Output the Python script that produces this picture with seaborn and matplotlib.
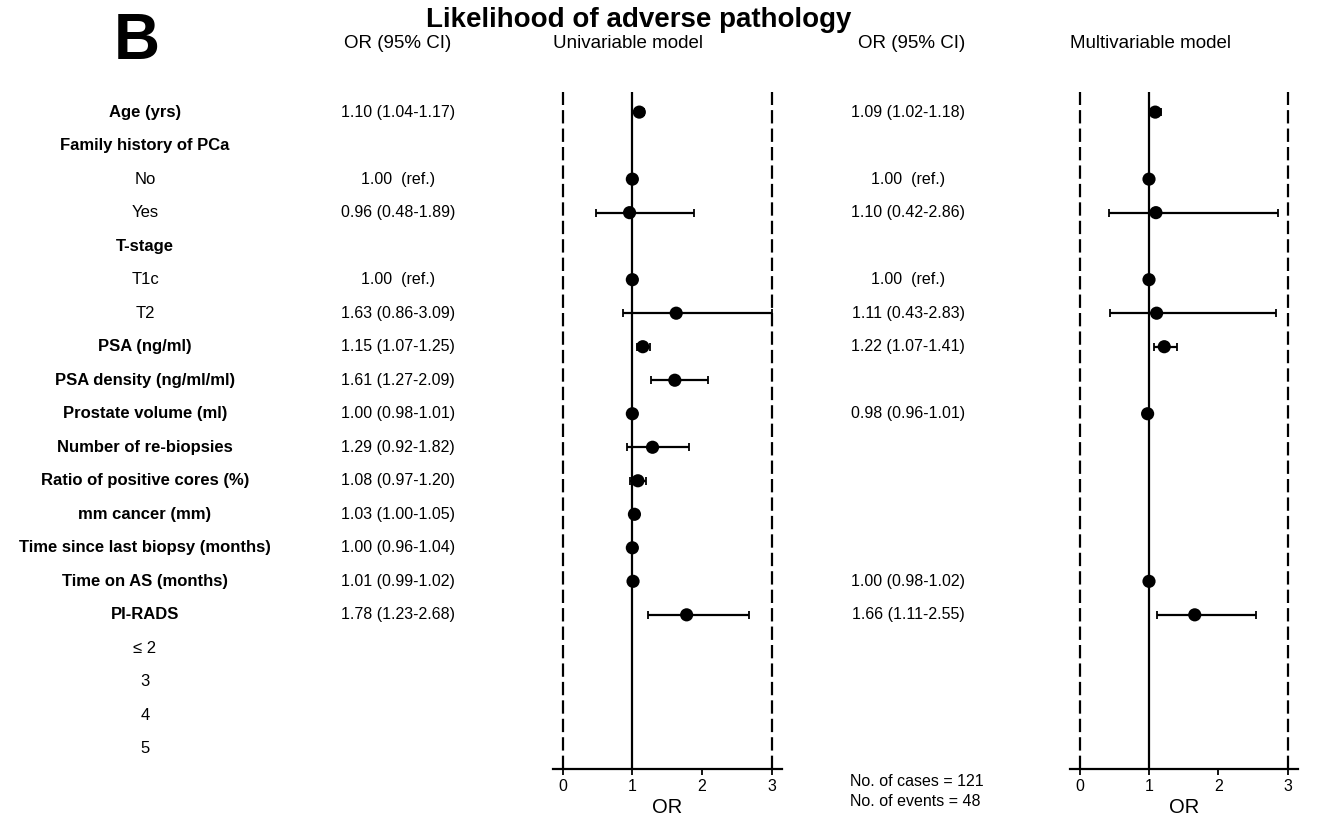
import numpy as np
import pandas as pd
import matplotlib
matplotlib.use("Agg")
import matplotlib.pyplot as plt
import matplotlib.transforms as mtransforms
import seaborn as sns

# ---------------- data ----------------
labels = ["Age (yrs)", "Family history of PCa", "No", "Yes", "T-stage", "T1c", "T2",
          "PSA (ng/ml)", "PSA density (ng/ml/ml)", "Prostate volume (ml)",
          "Number of re-biopsies", "Ratio of positive cores (%)", "mm cancer (mm)",
          "Time since last biopsy (months)", "Time on AS (months)", "PI-RADS",
          "\u2264 2", "3", "4", "5"]
bold = [True, True, False, False, True, False, False, True, True, True,
        True, True, True, True, True, True, False, False, False, False]

uni_or = [1.10, np.nan, 1.00, 0.96, np.nan, 1.00, 1.63, 1.15, 1.61, 1.00,
          1.29, 1.08, 1.03, 1.00, 1.01, 1.78, np.nan, np.nan, np.nan, np.nan]
uni_lo = [1.04, np.nan, 1.00, 0.48, np.nan, 1.00, 0.86, 1.07, 1.27, 0.98,
          0.92, 0.97, 1.00, 0.96, 0.99, 1.23, np.nan, np.nan, np.nan, np.nan]
uni_hi = [1.17, np.nan, 1.00, 1.89, np.nan, 1.00, 3.09, 1.25, 2.09, 1.01,
          1.82, 1.20, 1.05, 1.04, 1.02, 2.68, np.nan, np.nan, np.nan, np.nan]
uni_txt = ["1.10 (1.04-1.17)", "", "1.00  (ref.)", "0.96 (0.48-1.89)", "", "1.00  (ref.)",
           "1.63 (0.86-3.09)", "1.15 (1.07-1.25)", "1.61 (1.27-2.09)", "1.00 (0.98-1.01)",
           "1.29 (0.92-1.82)", "1.08 (0.97-1.20)", "1.03 (1.00-1.05)", "1.00 (0.96-1.04)",
           "1.01 (0.99-1.02)", "1.78 (1.23-2.68)", "", "", "", ""]

multi_or = [1.09, np.nan, 1.00, 1.10, np.nan, 1.00, 1.11, 1.22, np.nan, 0.98,
            np.nan, np.nan, np.nan, np.nan, 1.00, 1.66, np.nan, np.nan, np.nan, np.nan]
multi_lo = [1.02, np.nan, 1.00, 0.42, np.nan, 1.00, 0.43, 1.07, np.nan, 0.96,
            np.nan, np.nan, np.nan, np.nan, 0.98, 1.11, np.nan, np.nan, np.nan, np.nan]
multi_hi = [1.18, np.nan, 1.00, 2.86, np.nan, 1.00, 2.83, 1.41, np.nan, 1.01,
            np.nan, np.nan, np.nan, np.nan, 1.02, 2.55, np.nan, np.nan, np.nan, np.nan]
multi_txt = ["1.09 (1.02-1.18)", "", "1.00  (ref.)", "1.10 (0.42-2.86)", "", "1.00  (ref.)",
             "1.11 (0.43-2.83)", "1.22 (1.07-1.41)", "", "0.98 (0.96-1.01)",
             "", "", "", "", "1.00 (0.98-1.02)", "1.66 (1.11-2.55)", "", "", "", ""]

xticks = [0, 1, 2, 3]
n_cases = 121
n_events = 48

# ---------------- style ----------------
sns.set_theme(style="white")
plt.rcParams["font.family"] = ["Liberation Sans", "DejaVu Sans"]
plt.rcParams["text.color"] = "black"
plt.rcParams["axes.labelcolor"] = "black"
plt.rcParams["xtick.color"] = "black"
plt.rcParams["xtick.labelcolor"] = "black"

W, H = 1320, 817
fig = plt.figure(figsize=(W / 100, H / 100), dpi=100)

def fx(px):
    return px / W

def fy(py):
    return 1 - py / H

ax_bottom, ax_top = 769, 92
axes_specs = [(553, 782), (1070, 1298)]
axs = []
for (l, r) in axes_specs:
    ax = fig.add_axes([fx(l), fy(ax_bottom), (r - l) / W, (ax_bottom - ax_top) / H])
    axs.append(ax)

rows = np.arange(len(labels))
XMAX_DRAW = 3.0

def draw_forest(ax, orv, lo, hi):
    df = pd.DataFrame({"row": rows, "OR": orv, "lo": lo, "hi": hi}).dropna()
    hi_c = np.minimum(df["hi"].values, XMAX_DRAW)
    ax.axvline(0, color="black", lw=1.6, dashes=(6.0, 2.3), zorder=1)
    ax.axvline(3, color="black", lw=1.6, dashes=(6.0, 2.3), zorder=1)
    ax.axvline(1, color="black", lw=1.6, zorder=1)
    ax.errorbar(df["OR"], df["row"], xerr=[df["OR"] - df["lo"], hi_c - df["OR"]],
                fmt="none", ecolor="black", elinewidth=1.6, capsize=3, capthick=1.3, zorder=2)
    sns.scatterplot(data=df, x="OR", y="row", ax=ax, color="black", s=90,
                    edgecolor="none", zorder=3, legend=False)
    ax.set_xlim(-0.14, 3.15)
    ax.set_ylim(19.6, -0.6)
    ax.set_xticks(xticks)
    ax.set_xticklabels([str(t) for t in xticks], fontsize=11.5)
    ax.set_yticks([])
    ax.set_ylabel("")
    ax.set_xlabel("OR", fontsize=14.5, labelpad=3)
    for s in ["top", "left", "right"]:
        ax.spines[s].set_visible(False)
    ax.spines["bottom"].set_linewidth(1.6)
    ax.spines["bottom"].set_color("black")
    ax.tick_params(axis="x", direction="out", length=4, width=1.3, colors="black", pad=3,
                   bottom=True)
    ax.patch.set_alpha(0)

draw_forest(axs[0], uni_or, uni_lo, uni_hi)
draw_forest(axs[1], multi_or, multi_lo, multi_hi)

# ---------------- texts ----------------
trans = mtransforms.blended_transform_factory(fig.transFigure, axs[0].transData)
for i, lab in enumerate(labels):
    fig.text(fx(145), i, lab, transform=trans, ha="center", va="center",
             fontsize=12, fontweight="bold" if bold[i] else "normal")
    if uni_txt[i]:
        fig.text(fx(398), i, uni_txt[i], transform=trans, ha="center", va="center", fontsize=11.5)
    if multi_txt[i]:
        fig.text(fx(908), i, multi_txt[i], transform=trans, ha="center", va="center", fontsize=11.5)

fig.text(fx(639), fy(20), "Likelihood of adverse pathology", ha="center", va="center",
         fontsize=20, fontweight="bold")
fig.text(fx(137), fy(42), "B", ha="center", va="center", fontsize=46, fontweight="bold")
fig.text(fx(398), fy(44), "OR (95% CI)", ha="center", va="center", fontsize=13.5)
fig.text(fx(628), fy(44), "Univariable model", ha="center", va="center", fontsize=13.5)
fig.text(fx(912), fy(44), "OR (95% CI)", ha="center", va="center", fontsize=13.5)
fig.text(fx(1151), fy(44), "Multivariable model", ha="center", va="center", fontsize=13.5)

fig.text(fx(850), fy(782), f"No. of cases = {n_cases}", ha="left", va="center", fontsize=11.5)
fig.text(fx(850), fy(802), f"No. of events = {n_events}", ha="left", va="center", fontsize=11.5)

fig.savefig("out.png", dpi=100, facecolor="white")
